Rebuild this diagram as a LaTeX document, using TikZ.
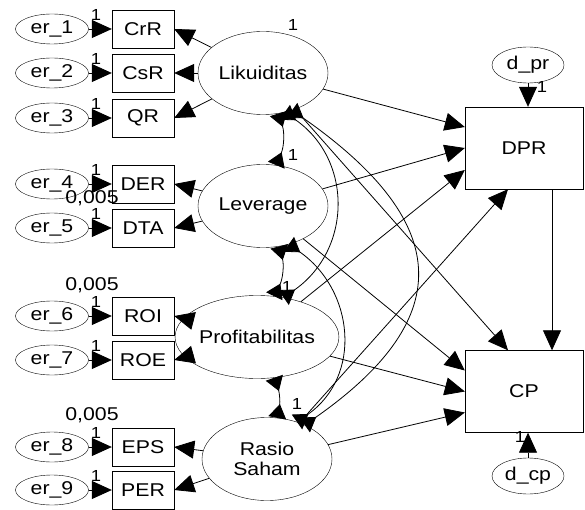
\documentclass[tikz,border=0pt]{standalone}
\usepackage{fontspec}
\setmainfont{Liberation Sans}[FakeStretch=1.15]
\usepackage{tikz}
\usetikzlibrary{calc,arrows.meta,shapes.geometric}
\definecolor{ink}{HTML}{000000}
\tikzset{
  txt/.style={font=\fontsize{18.5}{20}\selectfont},
  errv/.style={txt, draw=ink, ellipse, minimum width=73pt, minimum height=30pt, inner sep=0pt},
  resid/.style={txt, draw=ink, ellipse, minimum width=72pt, minimum height=36pt, inner sep=0pt},
  obs/.style={txt, draw=ink, rectangle, minimum width=62pt, minimum height=38pt, inner sep=0pt},
  dep/.style={txt, draw=ink, rectangle, minimum width=118pt, minimum height=82pt, inner sep=0pt},
  lat/.style={txt, draw=ink, ellipse, minimum width=130pt, minimum height=83pt, inner sep=0pt, align=center},
  arr/.style={draw=ink, line width=0.8pt, -{Triangle[length=20pt, width=18pt]}},
  cov/.style={draw=ink, line width=0.8pt, {Triangle[length=14pt, width=18pt, reversed]}-{Triangle[length=14pt, width=18pt, reversed]}},
  wt/.style={font=\fontsize{16}{16}\selectfont, inner sep=0pt},
  est/.style={txt, inner sep=0pt},
}

\begin{document}
\begin{tikzpicture}[x=1pt, y=1pt]
  \useasboundingbox (0,0) rectangle (585,509);

  % latent variables
  \node[lat] (lik)  at (263,436) {Likuiditas};
  \node[lat] (lev)  at (263,303) {Leverage};
  \node[lat] (prof) at (257,172) {Profitabilitas};
  \node[lat] (rs)   at (267,50)  {Rasio\\Saham};

  % dependent variables
  \node[dep] (dpr) at (524,361) {DPR};
  \node[dep] (cp)  at (524,117.5) {CP};
  \node[resid] (dpr_err) at (528,444) {d\_pr};
  \node[resid] (cp_err)  at (528,33)  {d\_cp};

  % indicators with their errors
  \foreach \name/\lbl/\yy [count=\i] in {crr/CrR/480, csr/CsR/436, qr/QR/391,
      der/DER/325, dta/DTA/281, roi/ROI/193, roe/ROE/149, eps/EPS/62, per/PER/19}{
    \node[obs] (\name) at (143,\yy) {\lbl};
    \node[errv] (er\i) at (52,\yy) {er\_\i};
    \draw[arr] (er\i) -- (\name);
    \node[wt] at (96,\yy+14) {1};
  }

  \node[est] at (92,311) {0,005};
  \node[est] at (92,224) {0,005};
  \node[est] at (92,94)  {0,005};

  % loadings
  \foreach \src/\dst in {lik/crr, lik/csr, lik/qr, lev/der, lev/dta, prof/roi, prof/roe, rs/eps, rs/per}
    \draw[arr] (\src) -- (\dst.east);

  % structural paths
  \draw[arr] (lik)  -- ($(dpr.west)+(0,21)$);
  \draw[arr] (lev)  -- (dpr.west);
  \draw[arr] (prof) -- ($(dpr.west)+(0,-22)$);
  \draw[arr] (rs)   -- ($(dpr.south)+(-16,0)$);
  \draw[arr] (lik)  -- ($(cp.north)+(-16,0)$);
  \draw[arr] (lev)  -- ($(cp.west)+(0,21)$);
  \draw[arr] (prof) -- (cp.west);
  \draw[arr] (rs)   -- ($(cp.west)+(0,-21)$);
  \draw[arr] ($(dpr.south)+(28,0)$) -- ($(cp.north)+(28,0)$);
  \draw[arr] (dpr_err) -- (dpr_err |- dpr.north);
  \draw[arr] (cp_err) -- (cp_err |- cp.south);
  \node[wt] at (542,422) {1};
  \node[wt] at (520,72)  {1};

  % covariances
  \draw[cov] (lik.-69)  to[bend left=20] (lev.72);
  \draw[cov] (lev.-68)  to[bend left=20] (prof.67);
  \draw[cov] (prof.-67) to[bend left=15] (rs.76);
  \draw[cov] (lik.-61)  to[out=-35, in=35, looseness=1.15] (prof.56);
  \draw[cov] (lev.-56)  to[out=-35, in=35, looseness=1.15] (rs.51);
  \draw[cov] (lik.-52)  to[out=-35, in=35, looseness=1.55] (rs.42);

  \node[wt] at (293,484) {1};
  \node[wt] at (293,354) {1};
  \node[wt] at (287,222) {1};
  \node[wt] at (297,105) {1};
\end{tikzpicture}
\end{document}
